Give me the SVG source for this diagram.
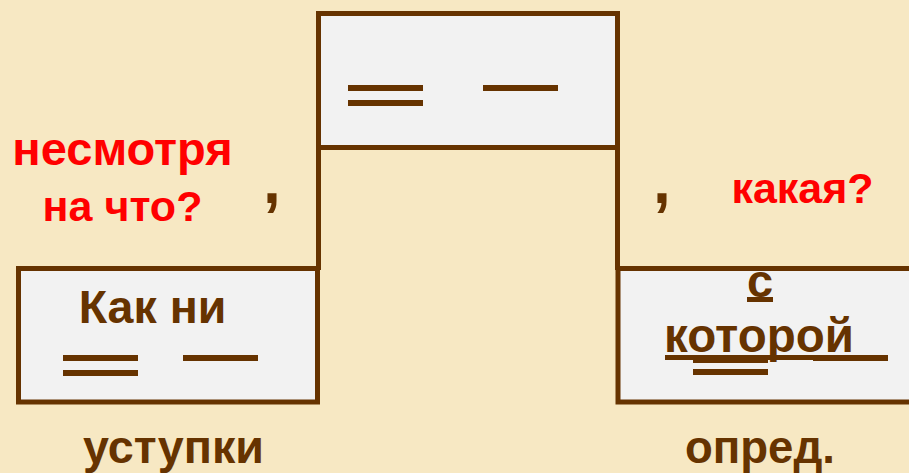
<svg xmlns="http://www.w3.org/2000/svg" width="909" height="473" viewBox="0 0 909 473">
<style>
.box{fill:#f2f2f2;stroke:#663300;stroke-width:5}
.ln{fill:#663300}
.br{fill:#663300;font-family:"Liberation Sans",Arial,sans-serif;font-weight:bold}
.rd{fill:#ff0000;font-family:"Liberation Sans",Arial,sans-serif;font-weight:bold}
.conn{stroke:#663300;stroke-width:5;fill:none}
</style>
<rect x="0" y="0" width="909" height="473" fill="#f7e8c3"/>
<g id="connectors">
<line class="conn" x1="318.5" y1="147" x2="318.5" y2="270"/>
<line class="conn" x1="617.5" y1="147" x2="617.5" y2="270"/>
</g>
<g id="main">
<rect class="box" x="318.5" y="13.5" width="299" height="134"/>
<rect class="ln" x="348" y="85" width="75" height="6"/>
<rect class="ln" x="348" y="100" width="75" height="6"/>
<rect class="ln" x="483" y="85" width="75" height="6"/>
</g>
<g id="left">
<rect class="box" x="18.5" y="268.5" width="299" height="133.5"/>
<text class="br" x="152.5" y="322.5" font-size="46.5" text-anchor="middle">Как ни</text>
<rect class="ln" x="63" y="355" width="75" height="6"/>
<rect class="ln" x="63" y="370" width="75" height="6"/>
<rect class="ln" x="183" y="355" width="75" height="6"/>
</g>
<g id="right">
<rect class="box" x="618" y="268.5" width="310" height="133.5"/>
<text class="br" x="760" y="297" font-size="47" text-anchor="middle">с</text>
<rect class="ln" x="747" y="297" width="26" height="5"/>
<text class="br" x="759" y="352" font-size="47.5" text-anchor="middle">которой</text>
<rect class="ln" x="665" y="355" width="188" height="5"/>
<rect class="ln" x="693" y="357" width="75" height="6"/>
<rect class="ln" x="693" y="369" width="75" height="6"/>
<rect class="ln" x="813" y="355" width="75" height="6"/>
</g>
<g id="q-left">
<text class="rd" x="122.5" y="165" font-size="47" text-anchor="middle">несмотря</text>
<text class="rd" x="122.5" y="221" font-size="43" text-anchor="middle">на что?</text>
</g>
<g id="q-right">
<text class="rd" x="802.5" y="203" font-size="43" text-anchor="middle">какая?</text>
</g>
<g id="commas">
<text class="br" x="272" y="203" font-size="64" text-anchor="middle">,</text>
<text class="br" x="662" y="203" font-size="64" text-anchor="middle">,</text>
</g>
<g id="labels">
<text class="br" x="173.5" y="463" font-size="46" text-anchor="middle" textLength="181" lengthAdjust="spacingAndGlyphs">уступки</text>
<text class="br" x="760" y="463" font-size="46" text-anchor="middle" textLength="150" lengthAdjust="spacingAndGlyphs">опред.</text>
</g>
</svg>
